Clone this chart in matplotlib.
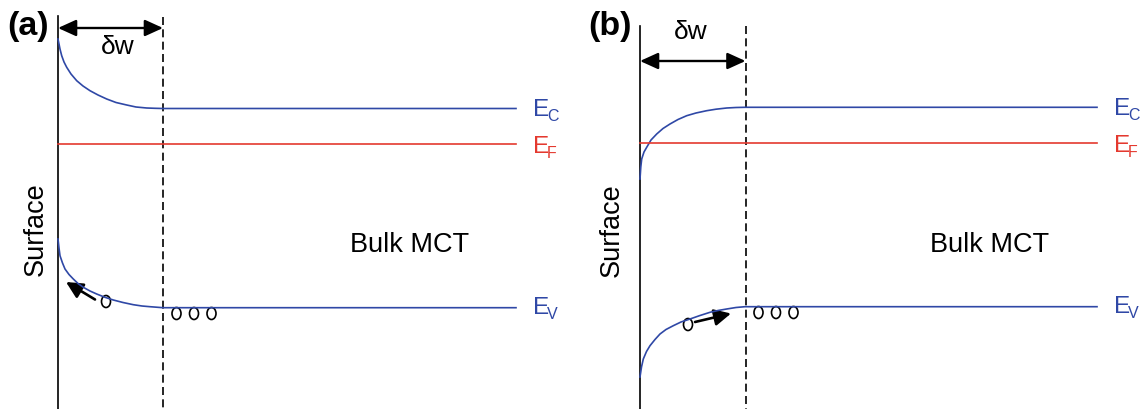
import matplotlib
matplotlib.use("Agg")
import matplotlib.pyplot as plt
from matplotlib.patches import Ellipse, FancyArrowPatch

plt.rcParams["font.family"] = ["Liberation Sans", "DejaVu Sans"]

BLUE = "#2f48a6"
RED = "#e4392f"

# band edges, panel (a): downward bending at the surface (pixel coordinates)
ec_a_x = [58, 60, 61.7, 64, 66.7, 71, 76.7, 83, 90, 98, 106.7, 116, 126.7, 136, 146.7, 155, 163, 516]
ec_a_y = [40, 50, 56.7, 63, 68.3, 75, 81.7, 87, 91.7, 96, 100, 103.5, 106, 108, 109, 109.3, 109.5, 109.5]
ev_a_x = [58, 59, 60, 62.5, 65, 69, 73.3, 78, 83.3, 90, 96.7, 105, 113.3, 123, 133.3, 142, 150, 163, 516]
ev_a_y = [240, 249, 256.7, 264, 270, 275.5, 280, 284.5, 288.3, 292, 295, 298.3, 301, 303.5, 305.7, 307, 307.7, 308.7, 308.7]
ef_a_y = 145

# panel (b): upward bending at the surface
ec_b_x = [640, 640.8, 641.7, 644, 646.7, 651, 656.7, 663, 670, 678, 686.7, 696, 706.7, 716, 726.7, 736, 745, 1097]
ec_b_y = [180, 168, 160, 153, 148.3, 141, 135, 129.5, 125, 120.5, 116.7, 114, 111.7, 110.2, 109, 108.5, 108.3, 108.3]
ev_b_x = [640, 641.5, 643.3, 646.5, 650, 655, 660, 666, 673.3, 681, 690, 700, 710, 718, 726.7, 736, 745, 1097]
ev_b_y = [378, 368, 360, 352.5, 346.7, 340.5, 335, 330.5, 326.7, 323, 320, 316.5, 313.3, 311.5, 310, 308.5, 307.7, 307.7]
ef_b_y = 143.5

# holes: (x, y) centres
holes_a = [(106, 302.5), (176.5, 314.5), (194, 314.5), (211.5, 314.5)]
holes_b = [(688, 325.5), (758.5, 313.5), (776, 313.5), (793.5, 313.5)]

fig = plt.figure(figsize=(11.44, 4.10), dpi=100)
ax = fig.add_axes([0, 0, 1, 1])
ax.set_xlim(0, 1144)
ax.set_ylim(410, 0)
ax.axis("off")


def draw_panel(letter, x_s, x_d, top_s, top_d, arrow_y, dw_xy,
               ec_x, ec_y, ev_x, ev_y, ef_y, x_end, holes, hole_arrow,
               surf_xy, bulk_xy, letter_xy):
    # surface and depletion edge
    ax.plot([x_s, x_s], [top_s, 410], color="black", lw=1.2)
    ax.plot([x_d, x_d], [top_d, 410], color="black", lw=1.2,
            ls=(0, (4.8, 2.6)))
    ax.add_patch(FancyArrowPatch((x_s, arrow_y), (x_d, arrow_y),
                                 arrowstyle="<|-|>,head_length=0.55,head_width=0.25",
                                 mutation_scale=20, color="black", lw=1.7,
                                 shrinkA=0, shrinkB=0))
    ax.text(dw_xy[0], dw_xy[1], "δw", fontsize=19, ha="center", va="center")

    # bands
    ax.plot(ec_x, ec_y, color=BLUE, lw=1.2)
    ax.plot(ev_x, ev_y, color=BLUE, lw=1.2)
    ax.plot([x_s, x_end], [ef_y, ef_y], color=RED, lw=1.2)

    # band labels
    lx = x_end + 17
    for yb, sub, col in [(ec_y[-1] + 6.5, "C", BLUE), (ef_y + 8.5, "F", RED),
                         (ev_y[-1] + 5, "V", BLUE)]:
        ax.text(lx, yb, "E", fontsize=17.5, color=col, ha="left", va="baseline")
        ax.text(lx + 14, yb + 5, sub, fontsize=11.5, color=col,
                ha="left", va="baseline")

    # holes and their drift direction
    for hx, hy in holes:
        ax.add_patch(Ellipse((hx, hy), 9, 12, fill=False, ec="black", lw=1.2))
    ax.add_patch(FancyArrowPatch(hole_arrow[0], hole_arrow[1],
                                 arrowstyle="-|>,head_length=0.5,head_width=0.25",
                                 mutation_scale=20, color="black", lw=1.9,
                                 shrinkA=0, shrinkB=0))

    ax.text(surf_xy[0], surf_xy[1], "Surface", fontsize=19.5, rotation=90,
            ha="center", va="center")
    ax.text(bulk_xy[0], bulk_xy[1], "Bulk MCT", fontsize=19.5,
            ha="center", va="center")
    ax.text(letter_xy[0], letter_xy[1], letter, fontsize=24.5,
            fontweight="bold", ha="center", va="center")


draw_panel("(a)", 58, 163, 17, 18, 29, (118, 47),
           ec_a_x, ec_a_y, ev_a_x, ev_a_y, ef_a_y, 516, holes_a,
           ((95, 300.5), (66, 283)), (36, 229), (410, 245), (28, 26))
draw_panel("(b)", 640, 745.5, 27, 27, 62, (691, 32),
           ec_b_x, ec_b_y, ev_b_x, ev_b_y, ef_b_y, 1097, holes_b,
           ((695, 323), (731, 314.5)), (612, 230), (990, 245), (610, 26))

fig.savefig("out.png", dpi=100)
